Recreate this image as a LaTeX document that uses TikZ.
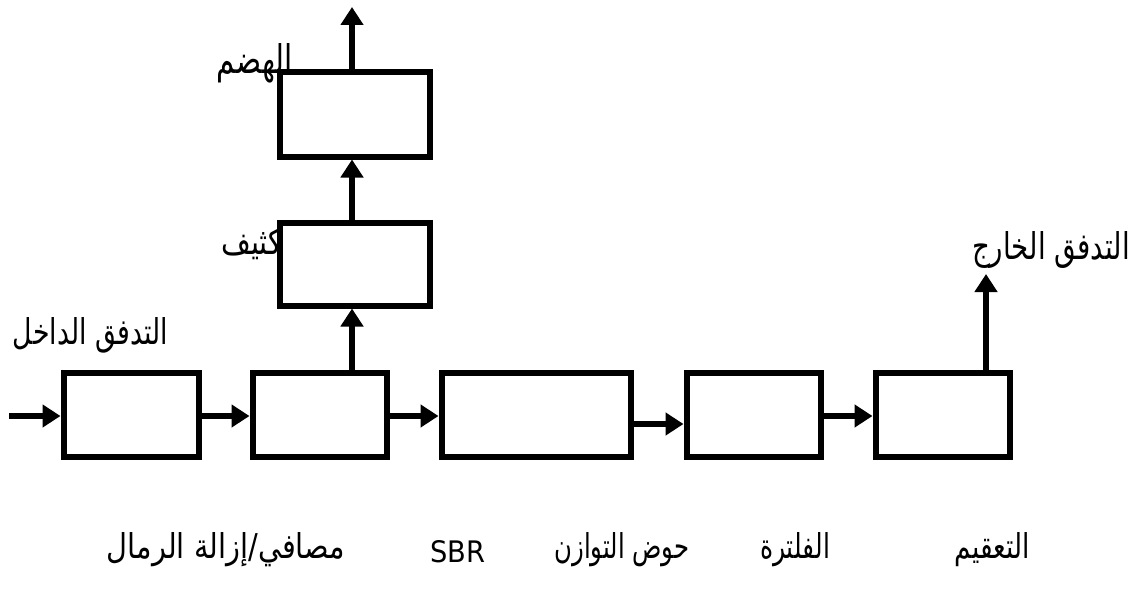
\documentclass[tikz,border=0pt]{standalone}
\usepackage{fontspec}
\usepackage{graphicx}
\usetikzlibrary{arrows.meta}
\newfontfamily\ar[Script=Arabic]{DejaVu Sans}
\setmainfont{DejaVu Sans}
\TeXXeTstate=1
\tikzset{
  blk/.style={draw=black, line width=6pt, fill=white, rectangle, inner sep=0pt, minimum height=84pt},
  arr/.style={line width=6.5pt, -{Triangle[length=18pt,width=22pt]}},
  lbl/.style={inner sep=0pt, anchor=base, font=\fontsize{36}{40}\selectfont},
  blbl/.style={inner sep=0pt, anchor=base, font=\fontsize{28}{32}\selectfont}
}
\begin{document}
\begin{tikzpicture}[x=1pt,y=-1pt]
\useasboundingbox (0,0) rectangle (1139,602);
% labels placed first (boxes hide parts of them)
\node[lbl] (inl) at (90.5,344) {\resizebox{155pt}{27pt}{\ar\beginR التدفق الداخل\endR}};
\node[lbl] (outl) at (1051,259) {\resizebox{158pt}{28pt}{\ar\beginR التدفق الخارج\endR}};
\node[lbl, anchor=base east] (digl) at (293,74) {\resizebox{76pt}{30pt}{\ar\beginR الهضم\endR}};
\node[lbl, anchor=base east] (thkl) at (310,254) {\scalebox{0.8}[1]{\ar\beginR التكثيف\endR}};
% boxes
\node[blk, minimum width=135pt] (b1) at (131,414.5) {};
\node[blk, minimum width=134pt] (b2) at (319.5,414.5) {};
\node[blk, minimum width=189pt] (b3) at (536,414.5) {};
\node[blk, minimum width=134pt] (b4) at (753.5,414.5) {};
\node[blk, minimum width=134pt] (b5) at (942.5,414.5) {};
\node[blk, minimum width=150pt, minimum height=83pt] (thk) at (354.5,264) {};
\node[blk, minimum width=150pt, minimum height=85pt] (dig) at (354.5,114) {};
% free ends
\coordinate (in) at (9,416);
\coordinate (vx) at (352,0);
\coordinate (top) at (352,7);
\coordinate (ox) at (986,274);
% connectors
\draw[arr] (in) -- (in -| b1.west);
\draw[arr] (b1.east |- in) -- (b2.west |- in);
\draw[arr] (b2.east |- in) -- (b3.west |- in);
\draw[arr] ([yshift=-9.5pt]b3.east) -- ([yshift=-9.5pt]b4.west);
\draw[arr] (b4.east |- in) -- (b5.west |- in);
\draw[arr] (vx |- b2.north) -- (vx |- thk.south);
\draw[arr] (vx |- thk.north) -- (vx |- dig.south);
\draw[arr] (vx |- dig.north) -- (top);
\draw[arr] (ox |- b5.north) -- (ox);
% bottom labels
\node[blbl] (l1) at (226,558) {\resizebox{238pt}{26pt}{\ar\beginR مصافي/إزالة الرمال\endR}};
\node[blbl] (l2) at (458,562) {\resizebox{55pt}{22pt}{SBR}};
\node[blbl] (l3) at (622,558) {\resizebox{135pt}{26pt}{\ar\beginR حوض التوازن\endR}};
\node[blbl] (l4) at (795,558) {\resizebox{70pt}{26pt}{\ar\beginR الفلترة\endR}};
\node[blbl] (l5) at (992,558) {\resizebox{75pt}{26pt}{\ar\beginR التعقيم\endR}};
\end{tikzpicture}
\end{document}
